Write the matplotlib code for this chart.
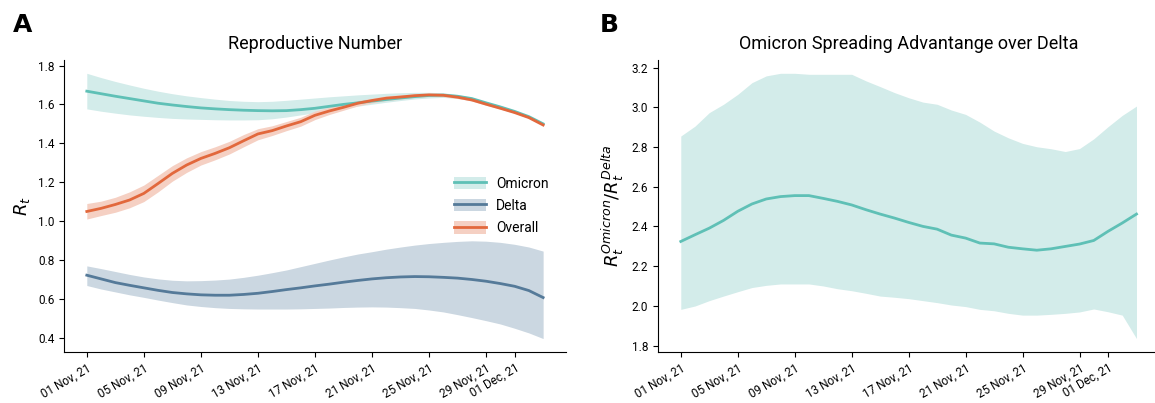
import numpy as np
import pandas as pd
import matplotlib
matplotlib.use("Agg")
import matplotlib.pyplot as plt
import matplotlib.dates as mdates
from matplotlib.patches import Patch
from matplotlib.lines import Line2D

plt.rcParams['font.family'] = ['Roboto', 'DejaVu Sans']

# daily values, 01 Nov 2021 - 03 Dec 2021
dates = pd.date_range("2021-11-01", "2021-12-03", freq="D")

omicron_mean = [1.668, 1.655, 1.642, 1.630, 1.618, 1.606, 1.597, 1.589, 1.582, 1.577, 1.573,
                1.570, 1.568, 1.567, 1.568, 1.573, 1.580, 1.590, 1.600, 1.608, 1.617, 1.625,
                1.633, 1.640, 1.646, 1.648, 1.642, 1.630, 1.608, 1.587, 1.564, 1.537, 1.500]
omicron_hi = [1.760, 1.738, 1.718, 1.700, 1.683, 1.668, 1.655, 1.644, 1.635, 1.627, 1.620,
              1.616, 1.614, 1.616, 1.621, 1.627, 1.633, 1.639, 1.644, 1.649, 1.653, 1.657,
              1.660, 1.662, 1.662, 1.660, 1.650, 1.636, 1.613, 1.592, 1.569, 1.541, 1.503]
omicron_lo = [1.577, 1.565, 1.555, 1.546, 1.539, 1.533, 1.528, 1.525, 1.523, 1.521, 1.520,
              1.520, 1.521, 1.526, 1.535, 1.546, 1.557, 1.568, 1.580, 1.591, 1.601, 1.611,
              1.620, 1.628, 1.633, 1.636, 1.630, 1.620, 1.600, 1.580, 1.558, 1.532, 1.496]

delta_mean = [0.721, 0.702, 0.683, 0.669, 0.656, 0.643, 0.632, 0.625, 0.620, 0.618, 0.618,
              0.622, 0.628, 0.637, 0.647, 0.656, 0.666, 0.675, 0.685, 0.694, 0.702, 0.708,
              0.712, 0.714, 0.713, 0.710, 0.706, 0.699, 0.690, 0.678, 0.664, 0.642, 0.606]
delta_hi = [0.769, 0.755, 0.740, 0.725, 0.712, 0.702, 0.695, 0.692, 0.693, 0.696, 0.701,
            0.710, 0.721, 0.734, 0.748, 0.765, 0.782, 0.799, 0.815, 0.830, 0.842, 0.855,
            0.866, 0.876, 0.884, 0.890, 0.895, 0.898, 0.896, 0.890, 0.880, 0.866, 0.845]
delta_lo = [0.668, 0.650, 0.635, 0.620, 0.607, 0.593, 0.580, 0.568, 0.560, 0.554, 0.550,
            0.548, 0.547, 0.547, 0.547, 0.548, 0.550, 0.552, 0.555, 0.557, 0.558, 0.557,
            0.554, 0.550, 0.542, 0.532, 0.518, 0.503, 0.487, 0.470, 0.448, 0.424, 0.395]

overall_mean = [1.049, 1.065, 1.085, 1.108, 1.142, 1.193, 1.245, 1.288, 1.322, 1.348, 1.377,
                1.413, 1.448, 1.465, 1.489, 1.511, 1.544, 1.566, 1.585, 1.606, 1.620, 1.632,
                1.638, 1.645, 1.649, 1.647, 1.637, 1.623, 1.601, 1.580, 1.558, 1.532, 1.494]
overall_lo = [1.010, 1.028, 1.045, 1.068, 1.100, 1.150, 1.205, 1.250, 1.288, 1.315, 1.345,
              1.382, 1.418, 1.440, 1.465, 1.488, 1.522, 1.548, 1.570, 1.592, 1.608, 1.620,
              1.627, 1.636, 1.641, 1.640, 1.631, 1.617, 1.596, 1.576, 1.555, 1.529, 1.490]
overall_hi = [1.090, 1.102, 1.122, 1.150, 1.185, 1.235, 1.285, 1.325, 1.357, 1.382, 1.410,
              1.445, 1.475, 1.490, 1.512, 1.534, 1.566, 1.585, 1.600, 1.620, 1.632, 1.644,
              1.649, 1.654, 1.657, 1.654, 1.643, 1.629, 1.606, 1.584, 1.561, 1.535, 1.498]

ratio_mean = [2.324, 2.358, 2.391, 2.430, 2.476, 2.513, 2.538, 2.550, 2.555, 2.555, 2.541,
              2.526, 2.508, 2.484, 2.462, 2.442, 2.420, 2.400, 2.386, 2.356, 2.341, 2.316,
              2.312, 2.295, 2.287, 2.280, 2.287, 2.299, 2.311, 2.329, 2.375, 2.417, 2.462]
ratio_hi = [2.855, 2.905, 2.973, 3.015, 3.065, 3.124, 3.158, 3.171, 3.171, 3.166, 3.166,
            3.166, 3.166, 3.133, 3.104, 3.074, 3.048, 3.026, 3.015, 2.986, 2.964, 2.925,
            2.880, 2.846, 2.818, 2.801, 2.791, 2.777, 2.792, 2.841, 2.902, 2.959, 3.006]
ratio_lo = [1.982, 1.999, 2.026, 2.049, 2.071, 2.092, 2.103, 2.110, 2.110, 2.110, 2.100,
            2.086, 2.076, 2.063, 2.049, 2.043, 2.036, 2.026, 2.016, 2.004, 1.996, 1.982,
            1.975, 1.962, 1.953, 1.953, 1.957, 1.962, 1.969, 1.984, 1.970, 1.953, 1.835]

tick_dates = pd.to_datetime(["2021-11-01", "2021-11-05", "2021-11-09", "2021-11-13",
                             "2021-11-17", "2021-11-21", "2021-11-25", "2021-11-29",
                             "2021-12-01"])

c_omi, c_omi_band = "#5fc0b6", "#d3ecea"
c_del, c_del_band = "#557a99", "#cbd7e1"
c_all, c_all_band = "#e2683c", "#f5d0c3"

fig = plt.figure(figsize=(11.55, 4.03), dpi=100)
ax1 = fig.add_axes([0.0554, 0.127, 0.4346, 0.724])
ax2 = fig.add_axes([0.5697, 0.127, 0.4340, 0.724])

series = [("Omicron", omicron_mean, omicron_lo, omicron_hi, c_omi, c_omi_band),
          ("Delta", delta_mean, delta_lo, delta_hi, c_del, c_del_band),
          ("Overall", overall_mean, overall_lo, overall_hi, c_all, c_all_band)]
handles = []
for name, m, lo, hi, c, cb in series:
    ax1.fill_between(dates, lo, hi, color=cb, lw=0)
    ax1.plot(dates, m, color=c, lw=2)
    handles.append((Patch(facecolor=cb, edgecolor="none"), Line2D([], [], color=c, lw=2)))

ax1.legend(handles, [s[0] for s in series], loc="center right", bbox_to_anchor=(0.99, 0.5),
           frameon=False, fontsize=10, handlelength=2.3, handleheight=1.0,
           handletextpad=0.7, labelspacing=0.6)
ax1.set_ylabel("$R_t$", fontsize=13)
ax1.set_title("Reproductive Number", fontsize=13, pad=8)
ax1.set_yticks([0.4, 0.6, 0.8, 1.0, 1.2, 1.4, 1.6, 1.8])

ax2.fill_between(dates, ratio_lo, ratio_hi, color=c_omi_band, lw=0)
ax2.plot(dates, ratio_mean, color=c_omi, lw=2)
ax2.set_ylabel("$R_t^{Omicron}/R_t^{Delta}$", fontsize=13)
ax2.set_title("Omicron Spreading Advantange over Delta", fontsize=13, pad=8)
ax2.set_yticks([1.8, 2.0, 2.2, 2.4, 2.6, 2.8, 3.0, 3.2])

for ax in (ax1, ax2):
    ax.spines["top"].set_visible(False)
    ax.spines["right"].set_visible(False)
    ax.set_xticks(tick_dates)
    ax.xaxis.set_major_formatter(mdates.DateFormatter("%d %b, %y"))
    plt.setp(ax.get_xticklabels(), rotation=30, ha="right", rotation_mode="anchor", fontsize=8.5)
    plt.setp(ax.get_yticklabels(), fontsize=8.5)

fig.text(0.011, 0.92, "A", fontsize=18, fontweight="bold", family="DejaVu Sans")
fig.text(0.519, 0.92, "B", fontsize=18, fontweight="bold", family="DejaVu Sans")

fig.savefig("out.png", dpi=100)
